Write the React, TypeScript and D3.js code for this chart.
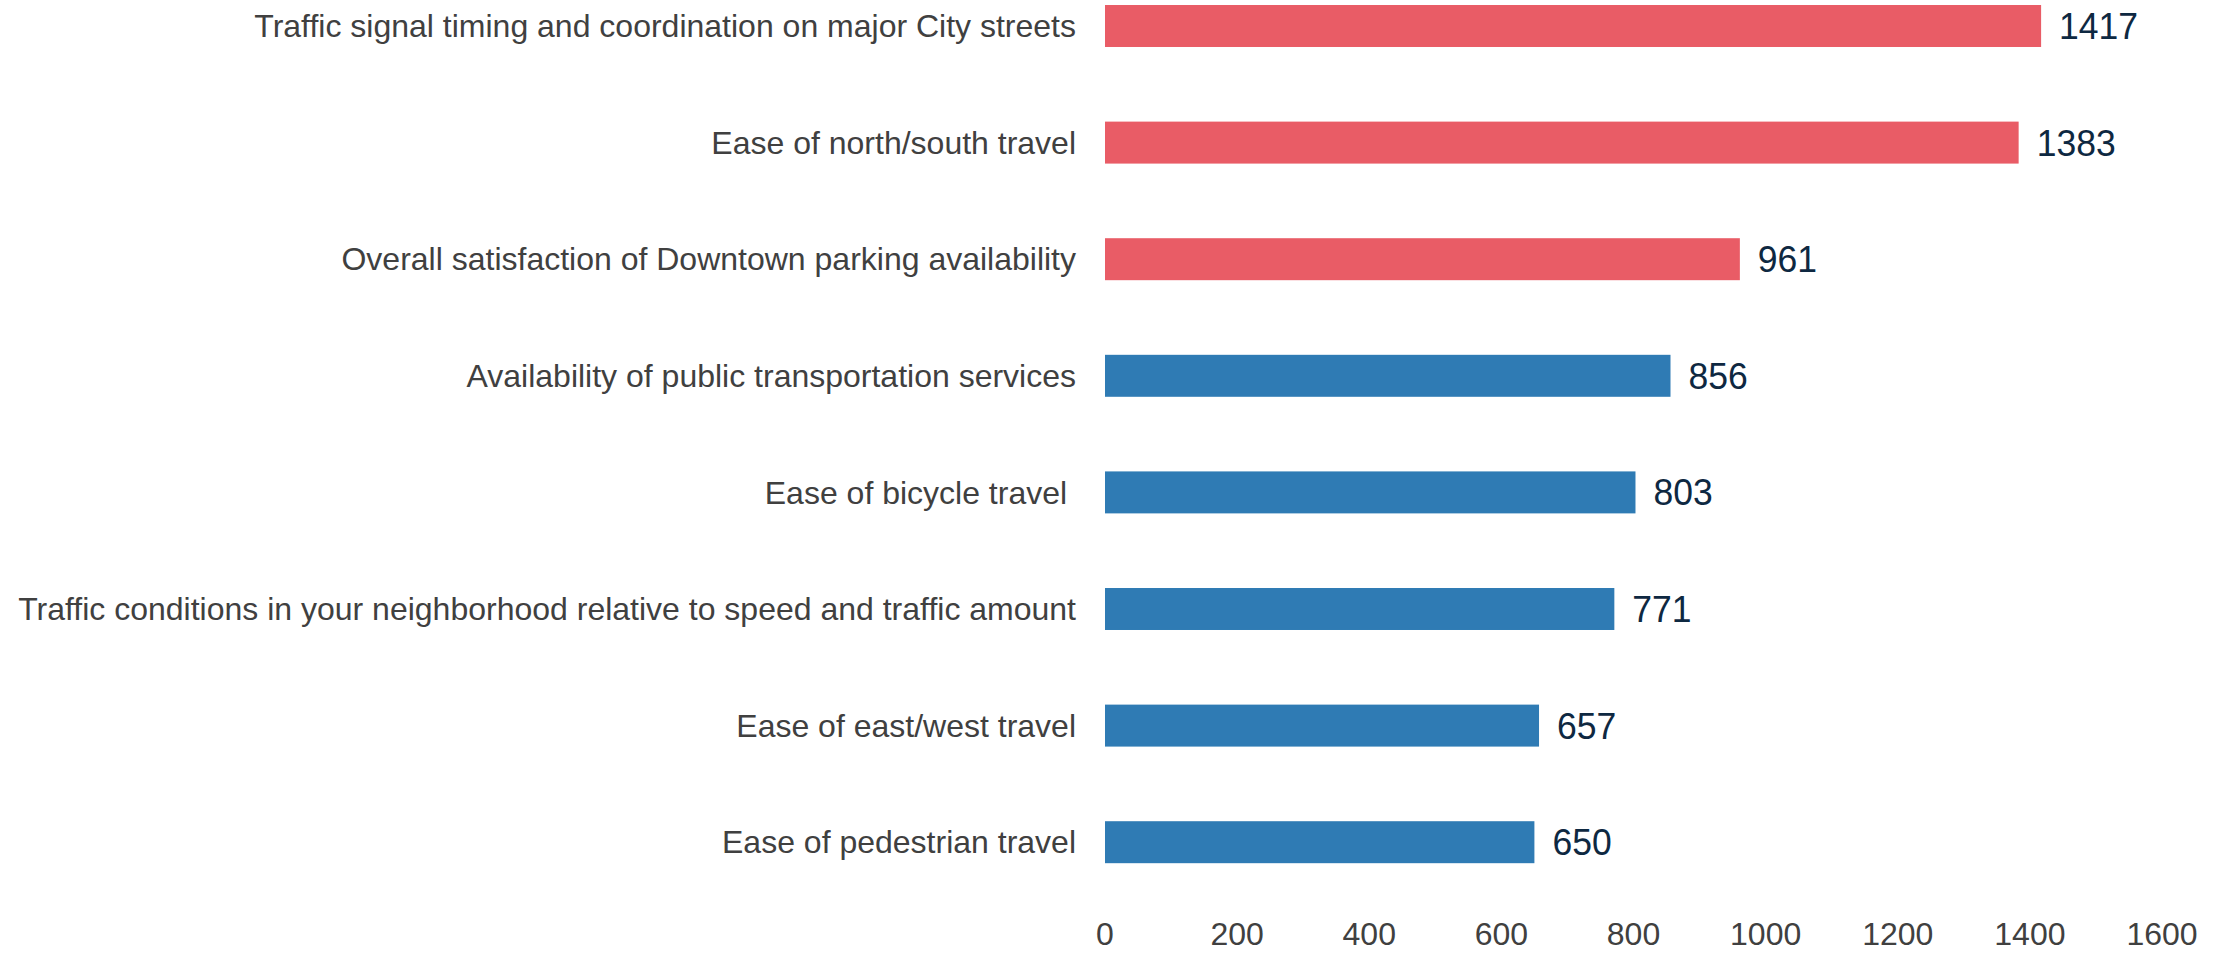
import * as d3 from 'd3';
import React, { useEffect, useRef } from 'react';

const categories = [
  'Traffic signal timing and coordination on major City streets',
  'Ease of north/south travel',
  'Overall satisfaction of Downtown parking availability',
  'Availability of public transportation services',
  'Ease of bicycle travel ',
  'Traffic conditions in your neighborhood relative to speed and traffic amount',
  'Ease of east/west travel',
  'Ease of pedestrian travel',
];
const values = [1417, 1383, 961, 856, 803, 771, 657, 650];
// top three items are highlighted in red
const highlighted = [true, true, true, false, false, false, false, false];
const xTicks = [0, 200, 400, 600, 800, 1000, 1200, 1400, 1600];

const width = 2224;
const height = 953;
const font = '"Liberation Sans", Arial, sans-serif';

export default function App() {
  const ref = useRef<SVGSVGElement>(null);

  useEffect(() => {
    const svg = d3.select(ref.current);
    svg.selectAll('*').remove();

    const x = d3.scaleLinear().domain([0, 1600]).range([1105, 2162]);
    const y = d3
      .scaleBand<string>()
      .domain(categories)
      .range([-32.3, 900.5])
      .paddingInner(0.64)
      .paddingOuter(0.32);

    const data = categories.map((c, i) => ({ name: c, value: values[i], hot: highlighted[i] }));

    svg
      .append('g')
      .selectAll('rect')
      .data(data)
      .join('rect')
      .attr('x', x(0))
      .attr('y', (d) => y(d.name) as number)
      .attr('width', (d) => x(d.value) - x(0))
      .attr('height', y.bandwidth())
      .attr('fill', (d) => (d.hot ? '#E95C66' : '#2F7BB4'));

    // category labels
    svg
      .append('g')
      .selectAll('text')
      .data(data)
      .join('text')
      .attr('x', x(0) - 29)
      .attr('y', (d) => (y(d.name) as number) + y.bandwidth() / 2)
      .attr('dy', '0.35em')
      .attr('text-anchor', 'end')
      .attr('xml:space', 'preserve')
      .style('white-space', 'pre')
      .style('font-family', font)
      .style('font-size', '32px')
      .attr('fill', '#404040')
      .text((d) => d.name);

    // value labels
    svg
      .append('g')
      .selectAll('text')
      .data(data)
      .join('text')
      .attr('transform', (d) => `translate(${x(d.value) + 18},${(y(d.name) as number) + y.bandwidth() / 2}) scale(0.96,1)`)
      .attr('dy', '0.35em')
      .style('font-family', font)
      .style('font-size', '37px')
      .attr('fill', '#0E2841')
      .text((d) => d.value);

    // x axis tick labels, no axis line
    svg
      .append('g')
      .selectAll('text')
      .data(xTicks)
      .join('text')
      .attr('x', (d) => x(d))
      .attr('y', 945)
      .attr('text-anchor', 'middle')
      .style('font-family', font)
      .style('font-size', '32px')
      .attr('fill', '#404040')
      .text((d) => d);

    return () => {
      svg.selectAll('*').remove();
    };
  }, []);

  return (
    <svg
      ref={ref}
      width={width}
      height={height}
      style={{ position: 'absolute', left: 0, top: 0, background: '#fff' }}
    />
  );
}
